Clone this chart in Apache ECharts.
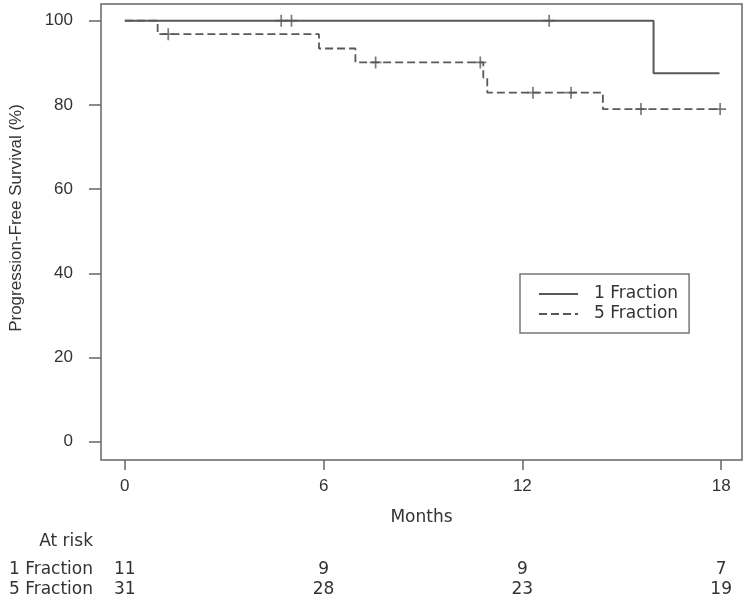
<!DOCTYPE html>
<html>
<head>
<meta charset="utf-8">
<title>Progression-Free Survival</title>
<script src="https://cdn.jsdelivr.net/npm/echarts@6.0.0/dist/echarts.min.js"></script>
<style>
  html, body { margin: 0; padding: 0; background: #fff; }
  #main { width: 750px; height: 600px; }
</style>
</head>
<body>
<div id="main"></div>
<script>
// Kaplan-Meier steps, 1 fraction
var oneTimes = [0, 15.96, 17.95];
var oneSurv = [100, 87.5, 87.5];
var oneCensorTimes = [4.72, 5.03, 12.81];
var oneCensorSurv = [100, 100, 100];

// Kaplan-Meier steps, 5 fraction
var fiveTimes = [0, 0.99, 5.86, 6.96, 10.82, 10.94, 14.43, 17.97];
var fiveSurv = [100, 96.8, 93.4, 90.1, 86.5, 82.9, 79.0, 79.0];
var fiveCensorTimes = [1.31, 7.57, 10.73, 12.32, 13.47, 15.58, 17.97];
var fiveCensorSurv = [96.8, 90.1, 90.1, 82.9, 82.9, 79.0, 79.0];

// axes + at risk table
var xTicks = [0, 6, 12, 18];
var yTicks = [0, 20, 40, 60, 80, 100];
var riskTimes = [0, 6, 12, 18];
var riskOne = [11, 9, 9, 7];
var riskFive = [31, 28, 23, 19];

var GREY = '#585858';
var TEXT = '#333';
var SANS = 'Liberation Sans';
var WIDE = 'DejaVu Sans';
var CROSS = 'path://M43,0H57V43H100V57H57V100H43V57H0V43H43Z';

function pairs(xs, ys) {
  return xs.map(function (x, i) { return [x, ys[i]]; });
}

// extra x axes used as rows of the at risk table
function riskRow(name, offset, values) {
  return {
    type: 'value',
    min: -0.72,
    max: 18.63,
    position: 'bottom',
    offset: offset,
    name: name,
    nameLocation: 'start',
    nameGap: 8,
    nameTextStyle: { fontFamily: WIDE, fontSize: 17, color: TEXT },
    axisLine: { show: false, onZero: false },
    axisTick: { show: false },
    splitLine: { show: false },
    axisLabel: {
      show: values !== null,
      customValues: riskTimes,
      margin: 0,
      verticalAlign: 'middle',
      fontFamily: WIDE,
      fontSize: 17,
      color: TEXT,
      formatter: function (v) {
        var i = riskTimes.indexOf(v);
        return i < 0 ? '' : String(values[i]);
      }
    }
  };
}

var chart = echarts.init(document.getElementById('main'));

var option = {
  animation: false,
  backgroundColor: '#fff',
  grid: {
    left: 100,
    right: 8,
    top: 4,
    bottom: 140,
    show: true,
    borderColor: '#666',
    borderWidth: 1.5,
    backgroundColor: 'transparent'
  },
  legend: {
    data: ['1 Fraction', '5 Fraction'],
    orient: 'vertical',
    left: 520,
    top: 274,
    selectedMode: false,
    itemWidth: 39,
    itemHeight: 14,
    itemGap: 0,
    padding: [10, 11, 9, 18],
    borderColor: '#777',
    borderWidth: 1.5,
    itemStyle: { color: 'transparent', borderWidth: 0, opacity: 0 },
    textStyle: {
      fontFamily: WIDE,
      fontSize: 17,
      color: TEXT,
      lineHeight: 20,
      padding: [0, 0, 0, 11]
    }
  },
  xAxis: [
    {
      type: 'value',
      min: -0.72,
      max: 18.63,
      name: 'Months',
      nameLocation: 'middle',
      nameGap: 49,
      nameTextStyle: { fontFamily: WIDE, fontSize: 17, color: TEXT },
      axisLine: { show: false, onZero: false },
      splitLine: { show: false },
      axisTick: {
        show: true,
        customValues: xTicks,
        length: 10,
        lineStyle: { color: '#666', width: 1.5 }
      },
      axisLabel: {
        customValues: xTicks,
        margin: 18,
        fontFamily: SANS,
        fontSize: 17,
        color: TEXT
      }
    },
    riskRow('At risk', 82, null),
    riskRow('1 Fraction', 110, riskOne),
    riskRow('5 Fraction', 130, riskFive)
  ],
  yAxis: {
    type: 'value',
    min: -4.35,
    max: 103.97,
    name: 'Progression-Free Survival (%)',
    nameLocation: 'middle',
    nameGap: 76,
    nameTextStyle: {
      fontFamily: SANS,
      fontSize: 17,
      color: TEXT,
      padding: [0, 0, 0, 28]
    },
    axisLine: { show: false, onZero: false },
    splitLine: { show: false },
    axisTick: {
      show: true,
      customValues: yTicks,
      length: 12,
      lineStyle: { color: '#666', width: 1.5 }
    },
    axisLabel: {
      customValues: yTicks,
      margin: 28,
      fontFamily: SANS,
      fontSize: 17,
      color: TEXT
    }
  },
  series: [
    {
      name: '5 Fraction',
      type: 'line',
      step: 'end',
      symbol: 'none',
      color: GREY,
      lineStyle: { color: GREY, width: 1.8, type: [8, 4] },
      data: pairs(fiveTimes, fiveSurv),
      z: 2
    },
    {
      name: '1 Fraction',
      type: 'line',
      step: 'end',
      symbol: 'none',
      color: GREY,
      lineStyle: { color: GREY, width: 2, type: 'solid' },
      data: pairs(oneTimes, oneSurv),
      z: 3
    },
    {
      name: '5 Fraction censored',
      type: 'scatter',
      symbol: CROSS,
      symbolSize: 12,
      itemStyle: { color: GREY },
      data: pairs(fiveCensorTimes, fiveCensorSurv),
      z: 4
    },
    {
      name: '1 Fraction censored',
      type: 'scatter',
      symbol: CROSS,
      symbolSize: 12,
      itemStyle: { color: GREY },
      data: pairs(oneCensorTimes, oneCensorSurv),
      z: 4
    }
  ]
};

chart.setOption(option);
window.onresize = chart.resize;
</script>
</body>
</html>
